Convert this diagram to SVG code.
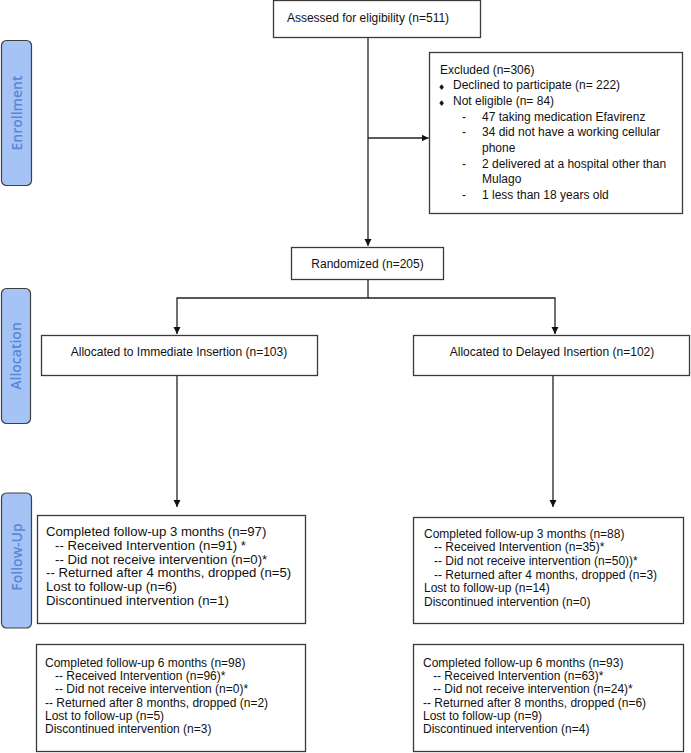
<svg xmlns="http://www.w3.org/2000/svg" width="691" height="753" viewBox="0 0 691 753">
<style>
.box{fill:#ffffff;stroke:#3a3a3a;stroke-width:1.3}
.t{font-family:"Liberation Sans",Arial,sans-serif;font-size:12px;fill:#111}
.t13{font-family:"Liberation Sans",Arial,sans-serif;font-size:13.2px;fill:#111}
.c{text-anchor:middle}
.side{fill:#a6c3f5;stroke:#404040;stroke-width:1.2}
.sidet{font-family:"Open Sans","Liberation Sans",sans-serif;font-size:14px;font-weight:600;fill:#5888d8;text-anchor:middle}
.ln{fill:none;stroke:#222;stroke-width:1.3}
.bul{font-family:"DejaVu Sans",sans-serif;font-size:8px;fill:#111;text-anchor:middle}
</style>
<defs>
<marker id="ah" markerUnits="userSpaceOnUse" markerWidth="8" markerHeight="8" refX="7" refY="3.5" orient="auto">
<path d="M0,0 L7,3.5 L0,7 z" fill="#111"/>
</marker>
</defs>

<g id="label-enrollment">
<rect class="side" x="1.5" y="40.5" width="30" height="145" rx="5"/>
<text class="sidet" transform="translate(21.5,113) rotate(-90)">Enrollment</text>
</g>
<g id="label-allocation">
<rect class="side" x="1.5" y="288.5" width="29" height="135" rx="5"/>
<text class="sidet" transform="translate(21,356) rotate(-90)">Allocation</text>
</g>
<g id="label-followup">
<rect class="side" x="1.5" y="493" width="30" height="135" rx="5"/>
<text class="sidet" transform="translate(21.5,557) rotate(-90)">Follow-Up</text>
</g>

<g id="connectors">
<line class="ln" x1="368" y1="38" x2="368" y2="246" marker-end="url(#ah)"/>
<line class="ln" x1="368" y1="138" x2="428.5" y2="138" marker-end="url(#ah)"/>
<polyline class="ln" points="368,279.5 368,298 177,298 177,334" marker-end="url(#ah)"/>
<polyline class="ln" points="368,298 555,298 555,334" marker-end="url(#ah)"/>
<line class="ln" x1="177" y1="375.5" x2="177" y2="507" marker-end="url(#ah)"/>
<line class="ln" x1="553" y1="375.5" x2="553" y2="507" marker-end="url(#ah)"/>
</g>

<g id="assessed">
<rect class="box" x="273.5" y="0.5" width="207" height="37"/>
<text class="t c" x="368" y="22">Assessed for eligibility (n=511)</text>
</g>

<g id="excluded">
<rect class="box" x="429.5" y="52.5" width="253" height="161"/>
<text class="t" x="440" y="73.5">Excluded (n=306)</text>
<text class="bul" x="441.5" y="90">♦</text>
<text class="t" x="453" y="89.2">Declined to participate (n= 222)</text>
<text class="bul" x="441.5" y="105.7">♦</text>
<text class="t" x="453" y="104.9">Not eligible (n= 84)</text>
<text class="t" x="462" y="120.6">-</text>
<text class="t" x="482" y="120.6">47 taking medication Efavirenz</text>
<text class="t" x="462" y="136.3">-</text>
<text class="t" x="482" y="136.3">34 did not have a working cellular</text>
<text class="t" x="482" y="152">phone</text>
<text class="t" x="462" y="167.7">-</text>
<text class="t" x="482" y="167.7">2 delivered at a hospital other than</text>
<text class="t" x="482" y="183.4">Mulago</text>
<text class="t" x="462" y="199.1">-</text>
<text class="t" x="482" y="199.1">1 less than 18 years old</text>
</g>

<g id="randomized">
<rect class="box" x="291.5" y="247.5" width="152" height="32"/>
<text class="t c" x="367.5" y="267.5">Randomized (n=205)</text>
</g>

<g id="alloc-immediate">
<rect class="box" x="41.5" y="335.5" width="276" height="40"/>
<text class="t c" x="179" y="356">Allocated to Immediate Insertion (n=103)</text>
</g>

<g id="alloc-delayed">
<rect class="box" x="413.5" y="335.5" width="276" height="40"/>
<text class="t c" x="552" y="356">Allocated to Delayed Insertion (n=102)</text>
</g>

<g id="fu3-immediate">
<rect class="box" x="37.5" y="515.5" width="268" height="108"/>
<text class="t13" x="46" y="536.4">Completed follow-up 3 months (n=97)</text>
<text class="t13" x="55" y="550">-- Received Intervention (n=91) *</text>
<text class="t13" x="55" y="563.7">-- Did not receive intervention (n=0)*</text>
<text class="t13" x="46" y="577.3">-- Returned after 4 months, dropped (n=5)</text>
<text class="t13" x="46" y="591">Lost to follow-up (n=6)</text>
<text class="t13" x="46" y="604.6">Discontinued intervention (n=1)</text>
</g>

<g id="fu3-delayed">
<rect class="box" x="413.5" y="517.5" width="270" height="106"/>
<text class="t" x="424" y="537.6">Completed follow-up 3 months (n=88)</text>
<text class="t" x="434" y="551.3">-- Received Intervention (n=35)*</text>
<text class="t" x="434" y="565">-- Did not receive intervention (n=50))*</text>
<text class="t" x="434" y="578.7">-- Returned after 4 months, dropped (n=3)</text>
<text class="t" x="424" y="592.4">Lost to follow-up (n=14)</text>
<text class="t" x="424" y="606.1">Discontinued intervention (n=0)</text>
</g>

<g id="fu6-immediate">
<rect class="box" x="36.5" y="644.5" width="269" height="107"/>
<text class="t" x="45" y="666.6">Completed follow-up 6 months (n=98)</text>
<text class="t" x="55" y="680">-- Received Intervention (n=96)*</text>
<text class="t" x="55" y="693.3">-- Did not receive intervention (n=0)*</text>
<text class="t" x="45" y="706.7">-- Returned after 8 months, dropped (n=2)</text>
<text class="t" x="45" y="720">Lost to follow-up (n=5)</text>
<text class="t" x="45" y="733.4">Discontinued intervention (n=3)</text>
</g>

<g id="fu6-delayed">
<rect class="box" x="413.5" y="644.5" width="270" height="107"/>
<text class="t" x="423" y="666.6">Completed follow-up 6 months (n=93)</text>
<text class="t" x="433" y="680">-- Received Intervention (n=63)*</text>
<text class="t" x="433" y="693.3">-- Did not receive intervention (n=24)*</text>
<text class="t" x="423" y="706.7">-- Returned after 8 months, dropped (n=6)</text>
<text class="t" x="423" y="720">Lost to follow-up (n=9)</text>
<text class="t" x="423" y="733.4">Discontinued intervention (n=4)</text>
</g>
</svg>
